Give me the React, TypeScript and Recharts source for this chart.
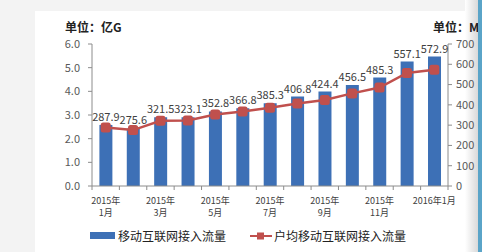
import React from "react";
import {
  ComposedChart,
  Bar,
  Line,
  XAxis,
  YAxis,
  LabelList,
} from "recharts";

const months = [
  "2015年1月", "2015年2月", "2015年3月", "2015年4月", "2015年5月", "2015年6月", "2015年7月",
  "2015年8月", "2015年9月", "2015年10月", "2015年11月", "2015年12月", "2016年1月",
];
// 移动互联网接入流量 (亿G)
const traffic = [2.58, 2.43, 2.9, 2.9, 3.15, 3.28, 3.5, 3.78, 3.99, 4.27, 4.58, 5.26, 5.47];
// 户均移动互联网接入流量 (M)
const perUser = [287.9, 275.6, 321.5, 323.1, 352.8, 366.8, 385.3, 406.8, 424.4, 456.5, 485.3, 557.1, 572.9];
const leftTicks = [0, 1, 2, 3, 4, 5, 6];
const rightTicks = [0, 100, 200, 300, 400, 500, 600, 700];

const data = months.map((m, i) => ({ month: m, traffic: traffic[i], perUser: perUser[i] }));

const BLUE = "#3d70b6";
const RED = "#c0504d";
const AXIS = "#8c8c8c";
const TEXT = "#404040";
const FONT = "'Noto Sans CJK SC', 'Noto Sans', sans-serif";

const W = 482;
const H = 252;
const LEFT_W = 92;
const RIGHT_W = 34;
const BAND = (W - LEFT_W - RIGHT_W) / months.length;

function MonthTick(props: any) {
  const { x, y, payload, index } = props;
  const label: string = payload.value;
  const last = index === months.length - 1;
  return (
    <g>
      <line x1={x - BAND / 2} x2={x - BAND / 2} y1={y - 10} y2={y - 6} stroke={AXIS} />
      {last && <line x1={x + BAND / 2} x2={x + BAND / 2} y1={y - 10} y2={y - 6} stroke={AXIS} />}
      {index % 2 === 0 &&
        (last ? (
          <text x={x} y={y + 8} textAnchor="middle" fontSize={9} fill={TEXT}>
            {label}
          </text>
        ) : (
          <text x={x} textAnchor="middle" fontSize={9} fill={TEXT}>
            <tspan x={x} y={y + 8}>{label.slice(0, 5)}</tspan>
            <tspan x={x} y={y + 20}>{label.slice(5)}</tspan>
          </text>
        ))}
    </g>
  );
}

function SquareDot(props: any) {
  const { cx, cy } = props;
  return <rect x={cx - 5} y={cy - 5} width={10} height={10} rx={2.5} fill={RED} />;
}

export default function App() {
  return (
    <div
      style={{
        position: "absolute",
        left: 0,
        top: 0,
        width: W,
        height: H,
        background: "#f3f3f3",
        overflow: "hidden",
        fontFamily: FONT,
      }}
    >
      <div style={{ position: "absolute", left: 35, top: 11, width: 432, height: H - 11, background: "#fff" }} />
      <div
        style={{
          position: "absolute",
          left: 465,
          top: 0,
          width: 13,
          height: H,
          background: "linear-gradient(to right, #ffffff, #d9d9d9)",
        }}
      />

      <div style={{ position: "absolute", left: 65, top: 20, fontSize: 12, lineHeight: "14px", fontWeight: 700, color: "#222" }}>
        单位：亿G
      </div>
      <div
        style={{
          position: "absolute",
          left: 433,
          top: 20,
          fontSize: 12,
          lineHeight: "14px",
          fontWeight: 700,
          color: "#222",
          whiteSpace: "nowrap",
        }}
      >
        单位：M
      </div>

      <ComposedChart
        width={W}
        height={H}
        data={data}
        margin={{ top: 44, right: 0, left: 0, bottom: 30 }}
        barCategoryGap="27%"
        style={{ position: "absolute", left: 0, top: 0 }}
      >
        <XAxis
          dataKey="month"
          interval={0}
          height={36}
          tickLine={false}
          tickSize={4}
          tickMargin={6}
          stroke={AXIS}
          tick={<MonthTick />}
        />
        <YAxis
          yAxisId="l"
          width={LEFT_W}
          domain={[0, 6]}
          ticks={leftTicks}
          tickFormatter={(v: number) => v.toFixed(1)}
          tickSize={4}
          tickMargin={8}
          stroke={AXIS}
          tick={{ fill: "#595959", fontSize: 11 }}
        />
        <YAxis
          yAxisId="r"
          orientation="right"
          width={RIGHT_W}
          domain={[0, 700]}
          ticks={rightTicks}
          tickSize={4}
          tickMargin={4}
          stroke={AXIS}
          tick={{ fill: "#595959", fontSize: 11 }}
        />
        <Bar yAxisId="l" dataKey="traffic" fill={BLUE} isAnimationActive={false}>
          <LabelList dataKey="perUser" position="top" offset={4} fill={TEXT} fontSize={11} />
        </Bar>
        <Line
          yAxisId="r"
          dataKey="perUser"
          type="linear"
          stroke={RED}
          strokeWidth={2.5}
          dot={<SquareDot />}
          isAnimationActive={false}
        />
      </ComposedChart>

      <div style={{ position: "absolute", left: 478, top: 0, width: 4, height: H, background: "#5aa4c8" }} />

      <div
        style={{
          position: "absolute",
          left: 90,
          top: 227,
          display: "flex",
          alignItems: "center",
          fontSize: 12,
          color: "#222",
          whiteSpace: "nowrap",
        }}
      >
        <span style={{ display: "inline-block", width: 25, height: 7, background: BLUE, marginRight: 3 }} />
        <span>移动互联网接入流量</span>
        <svg width={22} height={10} style={{ marginLeft: 24, marginRight: 2 }}>
          <line x1={0} x2={22} y1={5} y2={5} stroke={RED} strokeWidth={2} />
          <rect x={7} y={1.5} width={7} height={7} fill={RED} />
        </svg>
        <span>户均移动互联网接入流量</span>
      </div>
    </div>
  );
}
